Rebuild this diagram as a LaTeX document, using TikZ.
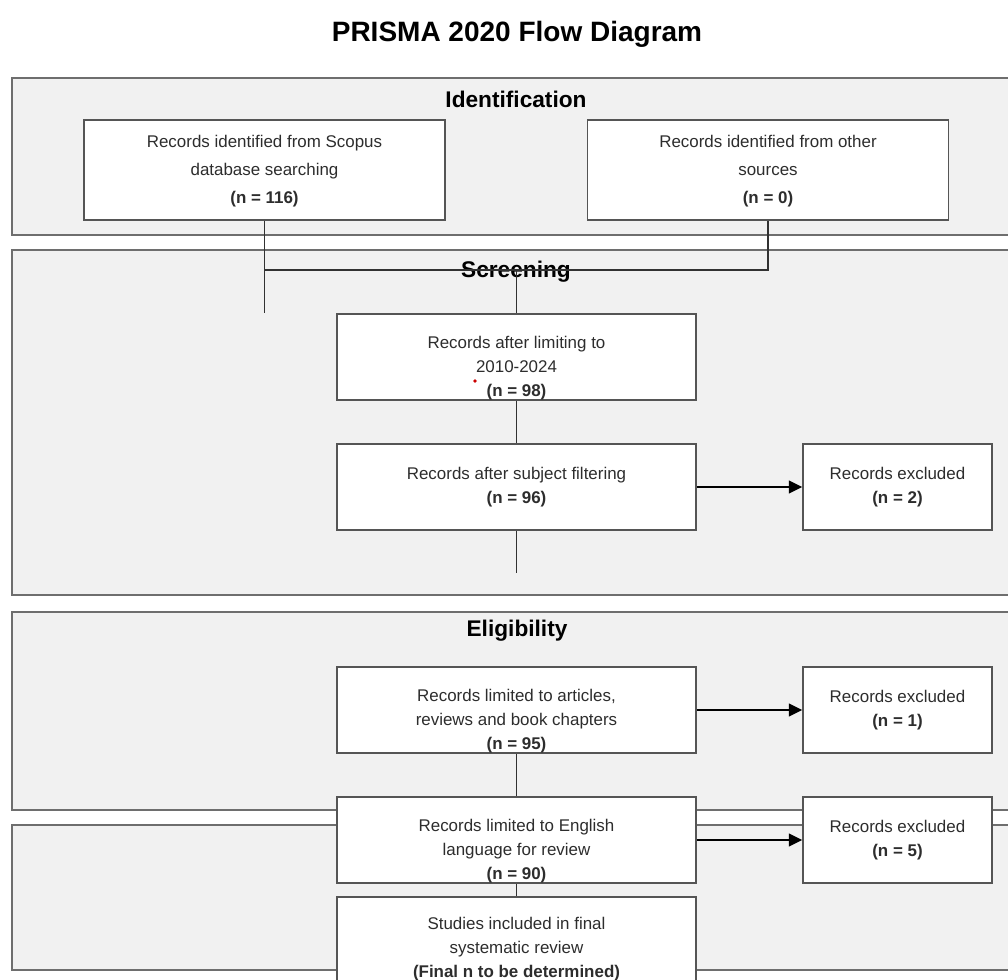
\documentclass[tikz,border=0pt]{standalone}
\usepackage{fontspec}
\setmainfont{Liberation Sans}
\usetikzlibrary{arrows.meta}

\definecolor{panelgray}{RGB}{241,241,241}
\definecolor{panelline}{RGB}{110,110,110}
\definecolor{boxline}{RGB}{85,85,85}
\definecolor{linkgray}{RGB}{50,50,50}
\definecolor{textgray}{RGB}{45,45,45}

\tikzset{
  panel/.style={draw=panelline, fill=panelgray, line width=1.5pt},
  phase/.style={inner sep=0pt, font=\fontsize{17}{20}\selectfont\bfseries},
  box/.style={draw=boxline, fill=white, line width=1.2pt, inner sep=0pt},
  idbox/.style={box, minimum width=270.75pt, minimum height=75pt},
  wide/.style={box, minimum width=269.25pt, minimum height=64.5pt},
  narrow/.style={box, minimum width=141.75pt, minimum height=64.5pt},
  txt/.style={align=center, inner sep=0pt, text=textgray, font=\fontsize{12.7}{18}\selectfont},
  loose/.style={txt, font=\fontsize{12.7}{21}\selectfont},
  link/.style={draw=linkgray, line width=1.35pt},
  flow/.style={draw=black, line width=1.35pt, -{Triangle[length=10pt,width=9.5pt]}},
}

\begin{document}
\begin{tikzpicture}[x=0.75pt,y=0.75pt,yscale=-1,xscale=1]
	\clip (0,0) rectangle (1008,980);
	\fill[white] (0,0) rectangle (1008,980);

	% Text Node
	\node (title) at (517,34) [font=\fontsize{21}{25}\selectfont\bfseries] {PRISMA 2020 Flow Diagram};

	%Shape: Rectangle (phases)
	\draw[panel] (12,78) rectangle (1020,235);
	\draw[panel] (12,250) rectangle (1020,595);
	\draw[panel] (12,612) rectangle (1020,810);
	\draw[panel] (12,825) rectangle (1020,970);

	% Text Node
	\node (identification) at (516,99) [phase] {Identification};
	\node (screening) at (516,272) [phase] {Screening};
	\node (eligibility) at (517,631) [phase] {Eligibility};

	%Shape: Rectangle (identification)
	\node (scopus) at (264.5,170) [idbox] {};
	\node (other) at (768,170) [idbox] {};
	\node (t-scopus) at (264.5,171) [loose] {Records identified from Scopus\\database searching\\\textbf{(n = 116)}};
	\node (t-other) at (768,171) [loose] {Records identified from other\\sources\\\textbf{(n = 0)}};

	%Shape: Rectangle (screening)
	\node (years) at (516.5,357) [wide] {};
	\node (subject) at (516.5,487) [wide] {};
	\node (exclsubject) at (897.5,487) [narrow] {};
	\node (t-years) at (516.5,368.5) [txt] {Records after limiting to\\2010-2024\\\textbf{(n = 98)}};
	\node (t-subject) at (516.5,487) [txt] {Records after subject filtering\\\textbf{(n = 96)}};
	\node (t-exclsubject) at (897.5,487) [txt] {Records excluded\\\textbf{(n = 2)}};

	%Shape: Rectangle (eligibility)
	\node (doctype) at (516.5,710) [wide] {};
	\node (excldoctype) at (897.5,710) [narrow] {};
	\node (english) at (516.5,840) [wide] {};
	\node (exclenglish) at (897.5,840) [narrow] {};
	\node (included) at (516.5,940) [wide] {};
	\node (t-doctype) at (516.5,721) [txt] {Records limited to articles,\\reviews and book chapters\\\textbf{(n = 95)}};
	\node (t-excldoctype) at (897.5,710) [txt] {Records excluded\\\textbf{(n = 1)}};
	\node (t-english) at (516.5,851) [txt] {Records limited to English\\language for review\\\textbf{(n = 90)}};
	\node (t-exclenglish) at (897.5,840) [txt] {Records excluded\\\textbf{(n = 5)}};
	\node (t-included) at (516.5,949) [txt] {Studies included in final\\systematic review\\\textbf{(Final n to be determined)}};

	%Straight Lines
	\coordinate (scopusend) at (264.5,313);
	\coordinate (join) at (264.5,270);
	\coordinate (split) at (516.5,270);
	\coordinate (subjectend) at (516.5,573);
	\draw[link] (scopus.south) -- (scopusend);
	\draw[link] (other.south) |- (join);
	\draw[link] (split) -- (years.north);
	\draw[link] (years.south) -- (subject.north);
	\draw[link] (subject.south) -- (subjectend);
	\draw[link] (doctype.south) -- (english.north);
	\draw[link] (english.south) -- (included.north);
	\draw[flow] (subject.east) -- (exclsubject.west);
	\draw[flow] (doctype.east) -- (excldoctype.west);
	\draw[flow] (english.east) -- (exclenglish.west);

	\fill[red!80!black] (475,381) circle (1.8);
\end{tikzpicture}
\end{document}
